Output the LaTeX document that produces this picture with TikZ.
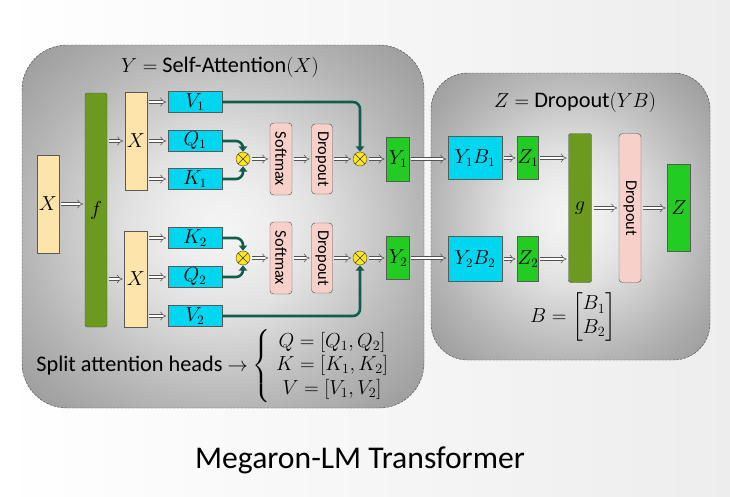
\documentclass[tikz,border=0pt]{standalone}
\usepackage{fontspec}
\setmainfont{Carlito}
\usepackage{graphicx,amsmath}
\usetikzlibrary{arrows.meta,positioning,calc}
\definecolor{tanfill}{RGB}{253,228,170}
\definecolor{cyanfill}{RGB}{0,214,240}
\definecolor{greenfill}{RGB}{34,204,34}
\definecolor{olivefill}{RGB}{107,154,30}
\definecolor{pinkfill}{RGB}{247,208,202}
\definecolor{multyellow}{RGB}{255,230,20}
\definecolor{linkteal}{RGB}{18,92,76}
\pgfdeclareradialshading{panelglow}{\pgfpoint{0bp}{0bp}}{%
  color(0bp)=(white!96!black); color(6bp)=(white!93!black); color(12bp)=(black!12);
  color(18bp)=(black!20); color(25bp)=(black!29); color(35bp)=(black!40); color(50bp)=(black!40)}
\def\pxu{0.03cm}
\tikzset{dims/.style 2 args={minimum width=#1*\pxu, minimum height=#2*\pxu}}
\tikzstyle{tanbox}=[draw=gray!70!black, fill=tanfill, rectangle, inner sep=0pt, font=\fontsize{16}{18}\selectfont]
\tikzstyle{cyanbox}=[draw=gray!70!black, fill=cyanfill, rectangle, inner sep=0pt, font=\fontsize{16}{18}\selectfont]
\tikzstyle{greenbox}=[draw=gray!70!black, fill=greenfill, rectangle, inner sep=0pt, font=\fontsize{16}{18}\selectfont]
\tikzstyle{olivebox}=[draw=gray!70!black, fill=olivefill, rectangle, rounded corners=2pt, inner sep=0pt, font=\fontsize{16}{18}\selectfont]
\tikzstyle{pinkbox}=[draw=gray!70!black, fill=pinkfill, rectangle, rounded corners=3pt, inner sep=0pt, font=\fontsize{14}{16}\selectfont]
\tikzstyle{mult}=[draw=gray!60!black, fill=multyellow, circle, minimum size=14*\pxu, inner sep=0pt, path picture={\draw[gray!40!black] (path picture bounding box.north west) -- (path picture bounding box.south east) (path picture bounding box.south west) -- (path picture bounding box.north east);}]
\tikzstyle{hollow}=[draw=gray!65!black, line width=0.45pt, double=white, double distance=2.2pt, -{Implies}, shorten <=1.5pt, shorten >=1.5pt]
\tikzstyle{link}=[draw=linkteal, line width=2.2pt, rounded corners=6pt, -{Triangle[length=4.5pt, width=7pt]}]
\tikzstyle{panel}=[draw=gray!60!black, dashed, dash pattern=on 2pt off 1.2pt, shading=panelglow]

\begin{document}
\begin{tikzpicture}[x=0.03cm, y=-0.03cm, auto]
      % page and the two panels
      \shade[left color=white, right color=gray!14] (0,0) rectangle (730,496);
      \path[panel, rounded corners=1.35cm] (22,45) rectangle (424,408);
      \path[panel, rounded corners=1.1cm] (431,73) rectangle (710,360);
      \node[font=\fontsize{19}{22}\selectfont] (ttl1) at (220,67) {$Y=$ Self-Attention$(X)$};
      \node[font=\fontsize{19}{22}\selectfont] (ttl2) at (575,102) {$Z=$ Dropout$(YB)$};

      % input and split
      \node[tanbox, dims={22}{98}] (xin) at (48,204) {$X$};
      \node[olivebox, dims={22}{234}] (f) at (96,210) {$f$};
      \node[tanbox, dims={22}{98}] (xa) at (136,141) {$X$};
      \node[tanbox, dims={23}{96}] (xb) at (136,279) {$X$};
      \node[cyanbox, dims={54}{21}] (v1) at (195,102) {$V_1$};
      \node[cyanbox, dims={54}{21}] (q1) at (195,141) {$Q_1$};
      \node[cyanbox, dims={54}{21}] (k1) at (195,179) {$K_1$};
      \node[cyanbox, dims={54}{21}] (k2) at (195,238) {$K_2$};
      \node[cyanbox, dims={54}{21}] (q2) at (195,277) {$Q_2$};
      \node[cyanbox, dims={54}{21}] (v2) at (195,316) {$V_2$};

      % attention heads
      \node[mult] (m1) at (243,159) {};
      \node[pinkbox, dims={22}{72}] (sm1) at (281,159) {\rotatebox{-90}{Softmax}};
      \node[pinkbox, dims={21}{70}] (do1) at (322,159) {\rotatebox{-90}{Dropout}};
      \node[mult] (m2) at (360,159) {};
      \node[greenbox, dims={23}{44}] (y1) at (398,159) {$Y_1$};
      \node[mult] (m3) at (243,258) {};
      \node[pinkbox, dims={22}{72}] (sm2) at (281,258) {\rotatebox{-90}{Softmax}};
      \node[pinkbox, dims={21}{70}] (do2) at (322,258) {\rotatebox{-90}{Dropout}};
      \node[mult] (m4) at (360,258) {};
      \node[greenbox, dims={23}{43}] (y2) at (398,258) {$Y_2$};

      % second panel
      \node[cyanbox, dims={54}{43}] (yb1) at (475,158) {$Y_1B_1$};
      \node[greenbox, dims={21}{43}] (z1) at (528,158) {$Z_1$};
      \node[cyanbox, dims={54}{45}] (yb2) at (475,259) {$Y_2B_2$};
      \node[greenbox, dims={21}{45}] (z2) at (528,259) {$Z_2$};
      \node[olivebox, dims={23}{149}] (g) at (580,208) {$g$};
      \node[pinkbox, dims={22}{149}] (do3) at (630,208) {\rotatebox{-90}{Dropout}};
      \node[greenbox, dims={23}{87}] (z) at (679,208) {$Z$};
      \node[font=\fontsize{17}{20}\selectfont] (bmat) at (573,317) {$B=\begin{bmatrix}B_1\\B_2\end{bmatrix}$};

      % notes
      \node[anchor=east, font=\fontsize{19}{22}\selectfont] (split) at (252,366) {Split attention heads $\rightarrow$};
      \node[right=0pt of split, inner sep=0pt, font=\fontsize{17}{20}\selectfont] (qkv) {$\left\{\begin{array}{c}Q=[Q_1,Q_2]\\K=[K_1,K_2]\\V=[V_1,V_2]\end{array}\right.$};
      \node[font=\fontsize{27}{30}\selectfont] (title) at (360,460) {Megaron-LM Transformer};

      % hollow arrows
      \draw[hollow] (xin.east) -- (xin.east -| f.west);
      \draw[hollow] (xa.west -| f.east) -- (xa.west);
      \draw[hollow] (xb.west -| f.east) -- (xb.west);
      \foreach \n in {v1,q1,k1}
        \draw[hollow] (\n.west -| xa.east) -- (\n.west);
      \foreach \n in {k2,q2,v2}
        \draw[hollow] (\n.west -| xb.east) -- (\n.west);
      \foreach \a/\b in {m1/sm1,sm1/do1,do1/m2,m2/y1,m3/sm2,sm2/do2,do2/m4,m4/y2,yb1/z1,yb2/z2,g/do3,do3/z}
        \draw[hollow] (\a.east) -- (\a.east -| \b.west);
      \draw[hollow] (y1.east) -- (y1.east -| yb1.west);
      \draw[hollow] (y2.east) -- (y2.east -| yb2.west);
      \draw[hollow] (z1.east) -- (z1.east -| g.west);
      \draw[hollow] (z2.east) -- (z2.east -| g.west);

      % value and key links
      \draw[link] (q1.east) -| (m1.north);
      \draw[link] (k1.east) -| (m1.south);
      \draw[link] (v1.east) -| (m2.north);
      \draw[link] (k2.east) -| (m3.north);
      \draw[link] (q2.east) -| (m3.south);
      \draw[link] (v2.east) -| (m4.south);
\end{tikzpicture}
\end{document}
